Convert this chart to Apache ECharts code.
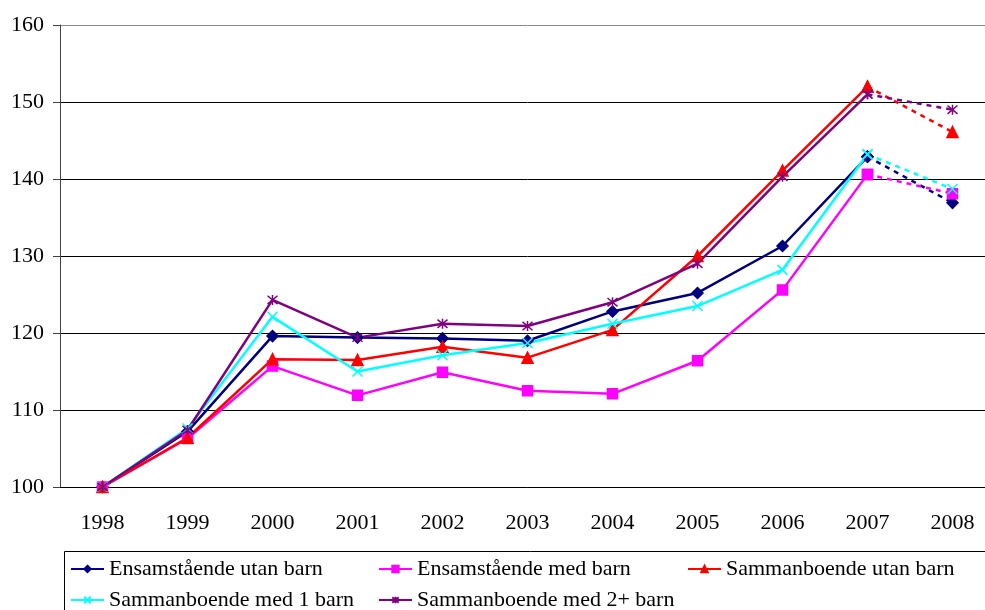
<!DOCTYPE html>
<html>
<head>
<meta charset="utf-8">
<title>Index</title>
<script src="https://cdn.jsdelivr.net/npm/echarts@6/dist/echarts.min.js"></script>
<style>
    html, body { margin: 0; padding: 0; background: #fff; overflow: hidden; }
    /* the plot area runs past the right edge of the window in the original */
    #chart { width: 995px; height: 610px; }
</style>
</head>
<body>
<div id="chart"></div>
<script>
    // data
    var years = ['1998', '1999', '2000', '2001', '2002', '2003', '2004', '2005', '2006', '2007', '2008'];
    var ensamUtan = [100, 107.2, 119.6, 119.4, 119.3, 119.0, 122.8, 125.2, 131.3, 142.9, 136.9];
    var ensamMed = [100, 106.3, 115.7, 111.9, 114.9, 112.5, 112.1, 116.4, 125.6, 140.6, 138.1];
    var sambUtan = [100, 106.4, 116.6, 116.5, 118.2, 116.8, 120.4, 130.0, 141.1, 152.0, 146.1];
    var sambMed1 = [100, 107.6, 122.1, 115.0, 117.1, 118.7, 121.2, 123.5, 128.2, 143.2, 138.7];
    var sambMed2 = [100, 107.4, 124.3, 119.4, 121.2, 120.9, 124.0, 129.0, 140.3, 151.0, 149.0];
    var yTicks = [100, 110, 120, 130, 140, 150, 160];

    var font = "'Liberation Serif', 'Times New Roman', serif";
    var cross = 'path://M0,0L10,10M10,0L0,10';
    var star = 'path://M0,0L10,10M10,0L0,10M5,-1L5,11';

    var lines = [
        { name: 'Ensamstående utan barn', data: ensamUtan, color: '#000080', symbol: 'diamond', size: 11 },
        { name: 'Ensamstående med barn', data: ensamMed, color: '#ff00ff', symbol: 'rect', size: 10 },
        { name: 'Sammanboende utan barn', data: sambUtan, color: '#ff0000', symbol: 'triangle', size: 11 },
        { name: 'Sammanboende med 1 barn', data: sambMed1, color: '#00ffff', symbol: cross, size: 10 },
        { name: 'Sammanboende med 2+ barn', data: sambMed2, color: '#800080', symbol: star, size: 10 }
    ];

    // solid up to 2007, dotted 2007-2008
    var series = [];
    lines.forEach(function (l) {
        var last = l.data.length - 1;
        var solid = l.data.map(function (v, i) { return i < last ? v : null; });
        var dotted = l.data.map(function (v, i) { return i >= last - 1 ? v : null; });
        var common = {
            name: l.name,
            type: 'line',
            symbol: l.symbol,
            symbolSize: l.size,
            showAllSymbol: true,
            itemStyle: { color: l.color, borderColor: l.color, borderWidth: 1.5 },
            emphasis: { disabled: true }
        };
        series.push(Object.assign({}, common, {
            data: solid,
            lineStyle: { color: l.color, width: 2.5 }
        }));
        series.push(Object.assign({}, common, {
            data: dotted,
            lineStyle: { color: l.color, width: 2.5, type: [5, 5] }
        }));
    });

    // one legend per entry so the columns line up
    var legendPos = [[70, 558], [378, 558], [687, 558], [70, 589], [378, 589]];
    var legends = lines.map(function (l, i) {
        return {
            data: [l.name],
            left: legendPos[i][0],
            top: legendPos[i][1],
            padding: 0,
            itemWidth: 33,
            itemHeight: 8,
            selectedMode: false,
            textStyle: { fontFamily: font, fontSize: 22, color: '#000' }
        };
    });

    var chart = echarts.init(document.getElementById('chart'));
    chart.setOption({
        animation: false,
        legend: legends,
        grid: { left: 60, top: 25, right: 0, bottom: 123, containLabel: false },
        xAxis: {
            type: 'category',
            data: years,
            boundaryGap: true,
            axisLine: { lineStyle: { color: '#000', width: 1 } },
            axisTick: { length: 7, interval: 0, lineStyle: { color: '#000' } },
            axisLabel: { interval: 0, margin: 25, fontFamily: font, fontSize: 22, color: '#000' },
            splitLine: { show: false }
        },
        yAxis: {
            type: 'value',
            min: yTicks[0],
            max: yTicks[yTicks.length - 1],
            interval: 10,
            axisLine: { show: true, lineStyle: { color: '#444', width: 1 } },
            axisTick: { show: true, length: 7, lineStyle: { color: '#444' } },
            axisLabel: { margin: 16, fontFamily: font, fontSize: 22, color: '#000' },
            splitLine: { lineStyle: { color: ['#000', '#000', '#000', '#000', '#000', '#000', '#888'], width: 1 } }
        },
        graphic: [{
            type: 'rect',
            shape: { x: 64.5, y: 551.5, width: 1000, height: 100 },
            style: { fill: 'none', stroke: '#000', lineWidth: 1 },
            silent: true
        }],
        series: series
    });
</script>
</body>
</html>
